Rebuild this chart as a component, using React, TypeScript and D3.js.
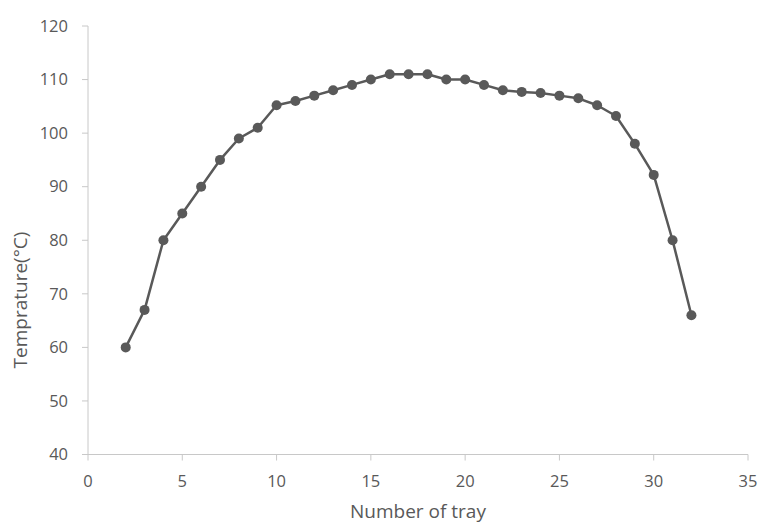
import React from "react";
import * as d3 from "d3";

const trays = [2, 3, 4, 5, 6, 7, 8, 9, 10, 11, 12, 13, 14, 15, 16, 17, 18, 19, 20, 21, 22, 23, 24, 25, 26, 27, 28, 29, 30, 31, 32];
const temps = [60, 67, 80, 85, 90, 95, 99, 101, 105.2, 106, 107, 108, 109, 110, 111, 111, 111, 110, 110, 109, 108, 107.7, 107.5, 107, 106.5, 105.2, 103.2, 98, 92.2, 80, 66];
const xTicks = [0, 5, 10, 15, 20, 25, 30, 35];
const yTicks = [40, 50, 60, 70, 80, 90, 100, 110, 120];

const W = 759;
const H = 525;
const FONT = "'Open Sans', Lato, sans-serif";
const TEXT = "#595959";
const AXIS = "#c8c8c8";
const SERIES = "#595959";

export default function App() {
  const x = d3.scaleLinear().domain([0, 35]).range([88, 748]);
  const y = d3.scaleLinear().domain([40, 120]).range([454.5, 26]);
  const data = trays.map((t, i) => ({ t, v: temps[i] }));
  const line = d3
    .line<{ t: number; v: number }>()
    .x((d) => x(d.t))
    .y((d) => y(d.v));

  return (
    <svg
      width={W}
      height={H}
      style={{ position: "absolute", left: 0, top: 0, background: "#fff" }}
    >
      {/* axes */}
      <line x1={x(0)} x2={x(0)} y1={y(120)} y2={y(40)} stroke={AXIS} strokeWidth={1} />
      <line x1={x(0)} x2={x(35)} y1={y(40)} y2={y(40)} stroke={AXIS} strokeWidth={1} />
      {yTicks.map((t) => (
        <g key={"y" + t}>
          <line x1={x(0) - 6} x2={x(0)} y1={y(t)} y2={y(t)} stroke={AXIS} strokeWidth={1} />
          <text
            x={x(0) - 20}
            y={y(t)}
            dy="0.35em"
            textAnchor="end"
            fontFamily={FONT}
            fontSize={16.5}
            fill={TEXT}
          >
            {t}
          </text>
        </g>
      ))}
      {xTicks.map((t) => (
        <g key={"x" + t}>
          <line x1={x(t)} x2={x(t)} y1={y(40)} y2={y(40) + 6} stroke={AXIS} strokeWidth={1} />
          <text
            x={x(t)}
            y={487}
            textAnchor="middle"
            fontFamily={FONT}
            fontSize={16.5}
            fill={TEXT}
          >
            {t}
          </text>
        </g>
      ))}
      {/* axis titles */}
      <text
        x={418}
        y={518}
        textAnchor="middle"
        fontFamily={FONT}
        fontSize={19}
        fill={TEXT}
      >
        Number of tray
      </text>
      <text
        transform="translate(27,300) rotate(-90)"
        textAnchor="middle"
        fontFamily={FONT}
        fontSize={19}
        fill={TEXT}
      >
        Temprature(°C)
      </text>
      {/* series */}
      <path d={line(data) || ""} fill="none" stroke={SERIES} strokeWidth={2.5} strokeLinejoin="round" />
      {data.map((d) => (
        <circle key={d.t} cx={x(d.t)} cy={y(d.v)} r={5} fill={SERIES} />
      ))}
    </svg>
  );
}
